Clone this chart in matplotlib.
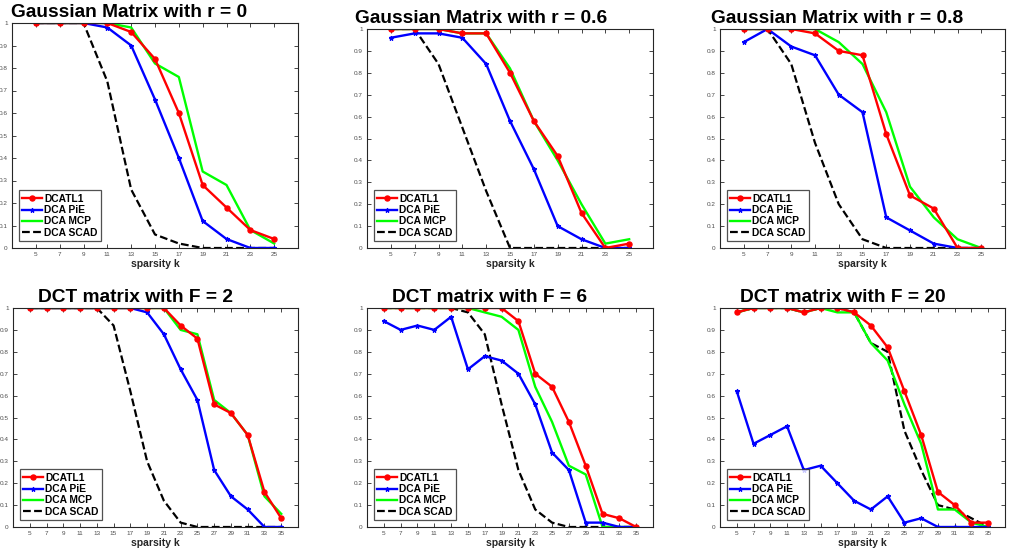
import matplotlib
matplotlib.use("Agg")
import matplotlib.pyplot as plt

plt.rcParams['font.family'] = ['Liberation Sans', 'DejaVu Sans']

k_gauss = [5, 7, 9, 11, 13, 15, 17, 19, 21, 23, 25]
k_dct = [5, 7, 9, 11, 13, 15, 17, 19, 21, 23, 25, 27, 29, 31, 33, 35]

titles = ["Gaussian Matrix with r = 0", "Gaussian Matrix with r = 0.6",
          "Gaussian Matrix with r = 0.8", "DCT matrix with F = 2",
          "DCT matrix with F = 6", "DCT matrix with F = 20"]
series_names = ["DCATL1", "DCA PiE", "DCA MCP", "DCA SCAD"]

# Gaussian r = 0
g0_tl1 = [1, 1, 1, 1, 0.96, 0.84, 0.60, 0.28, 0.18, 0.08, 0.04]
g0_pie = [1, 1, 1, 0.98, 0.90, 0.66, 0.40, 0.12, 0.04, 0, 0]
g0_mcp = [1, 1, 1, 1, 0.98, 0.82, 0.76, 0.34, 0.28, 0.08, 0.02]
g0_scad = [1, 1, 1, 0.74, 0.26, 0.06, 0.02, 0, 0, 0, 0]

# Gaussian r = 0.6
g6_tl1 = [1, 1, 1, 0.98, 0.98, 0.80, 0.58, 0.42, 0.16, 0, 0.02]
g6_pie = [0.96, 0.98, 0.98, 0.96, 0.84, 0.58, 0.36, 0.10, 0.04, 0, 0]
g6_mcp = [1, 1, 1, 0.98, 0.98, 0.82, 0.58, 0.40, 0.20, 0.02, 0.04]
g6_scad = [1, 1, 0.84, 0.55, 0.26, 0, 0, 0, 0, 0, 0]

# Gaussian r = 0.8
g8_tl1 = [1, 1, 1, 0.98, 0.90, 0.88, 0.52, 0.24, 0.18, 0, 0]
g8_pie = [0.94, 1, 0.92, 0.88, 0.70, 0.62, 0.14, 0.08, 0.02, 0, 0]
g8_mcp = [1, 1, 1, 1, 0.94, 0.84, 0.62, 0.28, 0.14, 0.04, 0]
g8_scad = [1, 1, 0.84, 0.48, 0.20, 0.04, 0, 0, 0, 0, 0]

# DCT F = 2
d2_tl1 = [1, 1, 1, 1, 1, 1, 1, 1, 1, 0.92, 0.86, 0.56, 0.52, 0.42, 0.16, 0.04]
d2_pie = [1, 1, 1, 1, 1, 1, 1, 0.98, 0.88, 0.72, 0.58, 0.26, 0.14, 0.08, 0, 0]
d2_mcp = [1, 1, 1, 1, 1, 1, 1, 1, 1, 0.90, 0.88, 0.58, 0.52, 0.42, 0.14, 0.06]
d2_scad = [1, 1, 1, 1, 1, 0.92, 0.62, 0.30, 0.12, 0.02, 0, 0, 0, 0, 0, 0]

# DCT F = 6
d6_tl1 = [1, 1, 1, 1, 1, 1, 1, 1, 0.94, 0.70, 0.64, 0.48, 0.28, 0.06, 0.04, 0]
d6_pie = [0.94, 0.90, 0.92, 0.90, 0.96, 0.72, 0.78, 0.76, 0.70, 0.56, 0.34, 0.26, 0.02, 0.02, 0, 0]
d6_mcp = [1, 1, 1, 1, 1, 1, 0.98, 0.96, 0.90, 0.64, 0.48, 0.28, 0.24, 0, 0, 0]
d6_scad = [1, 1, 1, 1, 1, 0.98, 0.88, 0.56, 0.26, 0.08, 0.02, 0, 0, 0, 0, 0]

# DCT F = 20
d20_tl1 = [0.98, 1, 1, 1, 0.98, 1, 1, 0.98, 0.92, 0.82, 0.62, 0.42, 0.16, 0.10, 0.02, 0.02]
d20_pie = [0.62, 0.38, 0.42, 0.46, 0.26, 0.28, 0.20, 0.12, 0.08, 0.14, 0.02, 0.04, 0, 0, 0, 0]
d20_mcp = [0.98, 1, 1, 1, 0.98, 1, 0.98, 0.98, 0.84, 0.76, 0.56, 0.38, 0.08, 0.08, 0.02, 0]
d20_scad = [0.98, 1, 1, 1, 0.98, 1, 1, 0.98, 0.84, 0.80, 0.44, 0.26, 0.10, 0.08, 0.04, 0]

panels = [
    (k_gauss, [g0_tl1, g0_pie, g0_mcp, g0_scad]),
    (k_gauss, [g6_tl1, g6_pie, g6_mcp, g6_scad]),
    (k_gauss, [g8_tl1, g8_pie, g8_mcp, g8_scad]),
    (k_dct, [d2_tl1, d2_pie, d2_mcp, d2_scad]),
    (k_dct, [d6_tl1, d6_pie, d6_mcp, d6_scad]),
    (k_dct, [d20_tl1, d20_pie, d20_mcp, d20_scad]),
]

W, H = 1013, 553
fig = plt.figure(figsize=(W / 100, H / 100), dpi=100)

# pixel boxes: left, top, right, bottom
boxes = [
    (12, 23, 298, 248),
    (367, 29, 653, 248),
    (720, 29, 1005, 248),
    (13, 308, 298, 527),
    (367, 308, 653, 527),
    (720, 308, 1005, 527),
]
title_x = [0.41, 0.40, 0.41, 0.43, 0.43, 0.43]

styles = [
    dict(color=(1, 0, 0), marker='o', markersize=3.6, markeredgewidth=1.0, linewidth=1.7, linestyle='-'),
    dict(color=(0, 0, 1), marker='*', markersize=3.4, markeredgewidth=0.8, linewidth=1.7, linestyle='-'),
    dict(color=(0, 1, 0), marker=None, linewidth=1.7, linestyle='-'),
    dict(color='black', marker=None, linewidth=1.6, linestyle=(0, (3.5, 1.5))),
]

grey = (0.15, 0.15, 0.15)
for i, ((ks, ys), box) in enumerate(zip(panels, boxes)):
    l, t, r, b = box
    ax = fig.add_axes([l / W, 1 - b / H, (r - l) / W, (b - t) / H])
    order = [3, 2, 1, 0]
    lines = {}
    for j in order:
        ln, = ax.plot(ks, ys[j], label=series_names[j], **styles[j])
        lines[j] = ln
    ax.set_xlim(ks[0] - 2, ks[-1] + 2)
    ax.set_ylim(0, 1)
    ax.set_xticks(ks)
    ax.set_xticklabels([str(v) for v in ks])
    ax.set_yticks([v / 10 for v in range(11)])
    ax.set_yticklabels(['0'] + [f"{v/10:.1f}" for v in range(1, 10)] + ['1'])
    ax.tick_params(direction='in', length=3, width=0.6, labelsize=4.6,
                   colors=grey, labelcolor=(0.3, 0.3, 0.3), top=True, right=True, pad=3)
    for s in ax.spines.values():
        s.set_color(grey)
        s.set_linewidth(0.8)
    ax.set_xlabel("sparsity k", fontsize=7.5, fontweight='bold',
                  color=grey, labelpad=1.5)
    ax.set_title(titles[i], fontsize=13.8, fontweight='bold', x=title_x[i], pad=4)
    leg = ax.legend([lines[j] for j in range(4)], series_names, loc='lower left',
                    prop={'weight': 'bold', 'size': 7.4},
                    frameon=True, fancybox=False, edgecolor=grey,
                    borderpad=0.35, labelspacing=0.12, handlelength=1.9,
                    handletextpad=0.25, borderaxespad=0.65)
    leg.get_frame().set_linewidth(0.9)

fig.savefig("out.png", dpi=100)
